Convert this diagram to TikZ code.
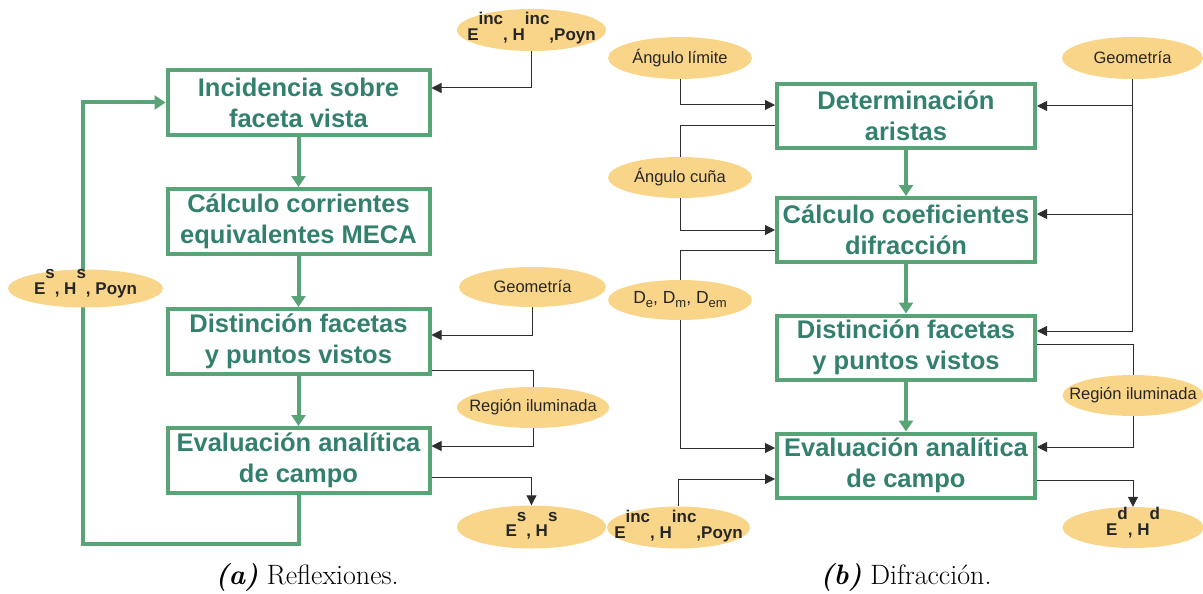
\documentclass[tikz,border=0pt]{standalone}
\usepackage{fontspec}
\newfontfamily\arialf{Liberation Sans}
\usetikzlibrary{shapes.geometric,arrows.meta,backgrounds}
\definecolor{boxgreen}{RGB}{88,164,118}
\definecolor{txtgreen}{RGB}{52,128,110}
\definecolor{ellfill}{RGB}{249,213,137}
\definecolor{lin}{RGB}{45,45,45}
\newcommand{\upsc}[1]{\raisebox{15.5pt}[0pt][0pt]{#1}}
\newcommand{\dnsc}[1]{\raisebox{-4pt}{\fontsize{13}{13}\selectfont #1}}
\newcommand{\zw}[1]{\makebox[0pt][c]{#1}}
\begin{document}
\begin{tikzpicture}[x=1pt,y=-1pt,
  box/.style={draw=boxgreen, line width=4pt, minimum width=262pt, minimum height=65pt, align=center,
    font=\arialf\bfseries\fontsize{25.5}{31}\selectfont, text=txtgreen, inner sep=0pt},
  bbox/.style={box, minimum width=258pt, minimum height=64pt},
  ell/.style={ellipse, fill=ellfill, inner sep=0pt, font=\arialf\fontsize{16.5}{18}\selectfont, text=black!85},
  bell/.style={ell, font=\arialf\bfseries\fontsize{17}{18}\selectfont},
  bl/.style={text height=#1, text depth=0pt},
  conn/.style={draw=lin, line width=1pt, -{Triangle[length=10pt,width=10pt]}},
  plain/.style={draw=lin, line width=1pt},
  garr/.style={draw=boxgreen, line width=4pt, -{Triangle[length=11pt,width=14pt]}},
  captext/.style={font=\fontsize{28}{32}\selectfont, inner sep=0pt}]
\useasboundingbox (0,0) rectangle (1203,594);

% ---------- (a) ----------
\node[box] (a1) at (298.5,102.5) {Incidencia sobre\\faceta vista};
\node[box] (a2) at (298.5,221.5) {Cálculo corrientes\\equivalentes MECA};
\node[box] (a3) at (298.5,341.5) {Distinción facetas\\y puntos vistos};
\node[box] (a4) at (298.5,460.5) {Evaluación analítica\\de campo};

\node[bell, bl=21pt, minimum width=149pt, minimum height=42pt] (ein) at (531.5,30) {\zw{E\upsc{inc}, H\upsc{inc},Poyn}};
\node[bell, bl=11pt, minimum width=155pt, minimum height=38pt] (esp) at (85.5,288.5) {\zw{E\upsc{s}, H\upsc{s}, Poyn}};
\node[ell, minimum width=147pt, minimum height=40pt] (geoa) at (532.5,287) {\zw{Geometría}};
\node[ell, minimum width=152pt, minimum height=41pt] (rega) at (533,407.5) {\zw{Región iluminada}};
\node[bell, bl=19pt, minimum width=149pt, minimum height=43pt] (esa) at (531.5,527) {\zw{E\upsc{s}, H\upsc{s}}};

\coordinate (lb) at (83,544);

\begin{scope}[on background layer]
\draw[garr] (a1) -- (a2);
\draw[garr] (a2) -- (a3);
\draw[garr] (a3) -- (a4);
\draw[garr] (a4.south) |- (lb) |- (a1.west);
\draw[conn] (ein.south) |- ([yshift=14.5pt]a1.east);
\draw[conn] (geoa.south) |- ([yshift=6.5pt]a3.east);
\draw[plain] ([yshift=-28.5pt]a3.east) -| (rega.north);
\draw[conn] (rega.south) |- ([yshift=14.5pt]a4.east);
\draw[conn] ([yshift=-16.5pt]a4.east) -| (esa.north);
\end{scope}

% ---------- (b) ----------
\node[bbox] (b1) at (906,116) {Determinación\\aristas};
\node[bbox] (b2) at (906,230) {Cálculo coeficientes\\difracción};
\node[bbox] (b3) at (906,347.5) {Distinción facetas\\y puntos vistos};
\node[bbox] (b4) at (906,465.5) {Evaluación analítica\\de campo};

\node[ell, minimum width=144pt, minimum height=42pt] (al) at (680,58) {\zw{Ángulo límite}};
\node[ell, minimum width=144pt, minimum height=41pt] (ac) at (680,177.5) {\zw{Ángulo cuña}};
\node[ell, minimum width=144pt, minimum height=40pt, font=\arialf\fontsize{17.5}{18}\selectfont] (dd) at (680,300) {\zw{D\dnsc{e}, D\dnsc{m}, D\dnsc{em}}};
\node[bell, bl=21.5pt, minimum width=143pt, minimum height=42pt] (eib) at (678.5,527.5) {\zw{E\upsc{inc}, H\upsc{inc},Poyn}};
\node[ell, minimum width=141pt, minimum height=42pt] (geob) at (1132.5,58) {\zw{Geometría}};
\node[ell, minimum width=141pt, minimum height=41pt] (regb) at (1133,395.5) {\zw{Región iluminada}};
\node[bell, bl=15pt, minimum width=141pt, minimum height=41pt] (edb) at (1133,527.5) {\zw{E\upsc{d}, H\upsc{d}}};

\coordinate (g1) at ([yshift=10pt]b1.east);
\coordinate (g2) at ([yshift=16pt]b2.east);
\coordinate (g3) at ([yshift=16.5pt]b3.east);

\begin{scope}[on background layer]
\draw[garr] (b1) -- (b2);
\draw[garr] (b2) -- (b3);
\draw[garr] (b3) -- (b4);
\draw[conn] (al.south) |- ([yshift=11pt]b1.west);
\draw[plain] ([yshift=-9pt]b1.west) -| (ac.north);
\draw[conn] (ac.south) |- (b2.west);
\draw[plain] ([yshift=-20pt]b2.west) -| (dd.north);
\draw[conn] (dd.south) |- ([yshift=17.5pt]b4.west);
\draw[conn] (eib.north) |- ([yshift=-13.5pt]b4.west);
\draw[conn] (geob.south) |- (g3);
\draw[conn] (geob.south |- g1) -- (g1);
\draw[conn] (geob.south |- g2) -- (g2);
\draw[plain] ([yshift=3.5pt]b3.east) -| (regb.north);
\draw[conn] (regb.south) |- ([yshift=18.5pt]b4.east);
\draw[conn] ([yshift=-14.5pt]b4.east) -| (edb.north);
\end{scope}

% captions
\node[captext] (capa) at (307,577) {\textbf{\textit{(a)}} Reflexiones.};
\node[captext] (capb) at (906,577) {\textbf{\textit{(b)}} Difracción.};
\end{tikzpicture}
\end{document}
